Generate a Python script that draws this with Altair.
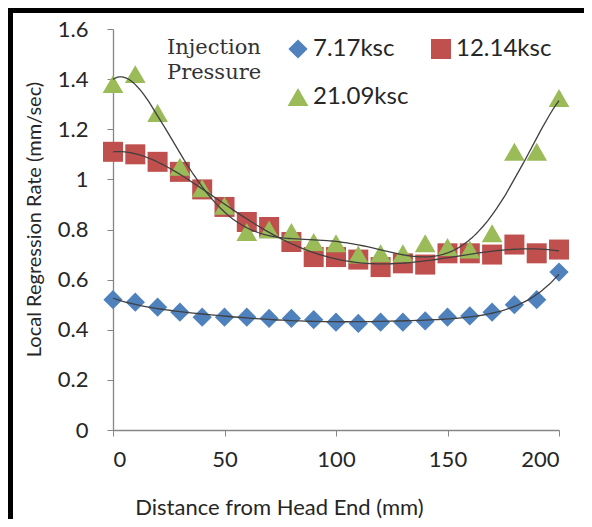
import altair as alt
import pandas as pd

# ---- data ----
distance = list(range(0, 201, 10))
rate_717 = [0.52, 0.51, 0.49, 0.47, 0.45, 0.45, 0.45, 0.445, 0.445, 0.44, 0.43,
            0.425, 0.43, 0.43, 0.435, 0.45, 0.455, 0.47, 0.50, 0.52, 0.63]
rate_1214 = [1.11, 1.10, 1.07, 1.03, 0.96, 0.89, 0.83, 0.81, 0.75, 0.69, 0.69,
             0.68, 0.65, 0.665, 0.66, 0.705, 0.705, 0.70, 0.74, 0.705, 0.72]
rate_2109 = [1.38, 1.42, 1.265, 1.05, 0.965, 0.895, 0.79, 0.80, 0.79, 0.75, 0.745,
             0.70, 0.705, 0.705, 0.745, 0.73, 0.72, 0.785, 1.11, 1.11, 1.325]

series_names = ["7.17ksc", "12.14ksc", "21.09ksc"]
series_colors = ["#4F81BD", "#C0504D", "#9BBB59"]
series_shapes = ["diamond", "square", "triangle-up"]
series_sizes = [370, 430, 400]
x_ticks = [0, 50, 100, 150, 200]
y_ticks = [0, 0.2, 0.4, 0.6, 0.8, 1.0, 1.2, 1.4, 1.6]

rows = []
for name, vals in zip(series_names, [rate_717, rate_1214, rate_2109]):
    for d, v in zip(distance, vals):
        rows.append({"distance": d, "rate": v, "series": name})
df = pd.DataFrame(rows)

W, H = 446, 401
LABEL_FONT = "Lato"

x_enc = alt.X(
    "distance:Q",
    scale=alt.Scale(domain=[0, 200], nice=False),
    axis=alt.Axis(
        values=x_ticks, title="Distance from Head End (mm)", grid=False,
        labelFontSize=22, labelPadding=13, labelFont=LABEL_FONT, labelColor="#262626",
        tickSize=6, tickColor="#868686", domainColor="#868686",
        titleFont=LABEL_FONT, titleFontSize=22, titleFontWeight="normal", titleColor="#262626",
        titleX=166, titleY=77, titleAlign="center", titleBaseline="middle",
    ),
)
y_enc = alt.Y(
    "rate:Q",
    scale=alt.Scale(domain=[0, 1.6], nice=False),
    axis=alt.Axis(
        values=y_ticks, format="~g", title="Local Regression Rate (mm/sec)", grid=False,
        labelFontSize=22, labelPadding=19, labelFont=LABEL_FONT, labelColor="#262626",
        tickSize=6, tickColor="#868686", domainColor="#868686",
        titleFont=LABEL_FONT, titleFontSize=20, titleFontWeight="normal", titleColor="#262626",
        titleX=-79, titleY=190, titleAngle=270, titleAlign="center", titleBaseline="middle",
    ),
)

points = alt.Chart(df).mark_point(filled=True, opacity=1).encode(
    x=x_enc,
    y=y_enc,
    color=alt.Color(
        "series:N",
        scale=alt.Scale(domain=series_names, range=series_colors),
        legend=alt.Legend(
            title=["Injection", "Pressure"], orient="none", legendX=54, legendY=8,
            direction="horizontal", columns=2, titleOrient="left",
            titleFont="DejaVu Serif", titleFontSize=21, titleFontWeight="normal",
            titleColor="#333333", titleLineHeight=25, titleAnchor="start",
            titleBaseline="top", titlePadding=24,
            labelFont=LABEL_FONT, labelFontSize=24, labelColor="#262626",
            labelOffset=3, symbolSize=280, symbolStrokeWidth=0,
            columnPadding=20, rowPadding=24, gridAlign="all", padding=0,
        ),
    ),
    shape=alt.Shape("series:N", scale=alt.Scale(domain=series_names, range=series_shapes)),
    size=alt.Size("series:N", scale=alt.Scale(domain=series_names, range=series_sizes), legend=None),
    order=alt.Order("series_order:Q"),
).transform_calculate(
    series_order="indexof(['7.17ksc','12.14ksc','21.09ksc'], datum.series)"
)

trend = alt.Chart(df).transform_regression(
    "distance", "rate", groupby=["series"], method="poly", order=6
).mark_line(color="#404040", strokeWidth=1.3).encode(
    x=alt.X("distance:Q"), y=alt.Y("rate:Q"), detail="series:N"
)

frame_src = pd.DataFrame({"k": [0]})
frame = alt.Chart(frame_src).mark_rect(
    filled=False, stroke="black", strokeWidth=5, fillOpacity=0
).encode(
    x=alt.value(-102.5), x2=alt.value(700), y=alt.value(-18.5), y2=alt.value(700)
)

chart = alt.layer(points, trend, frame).properties(
    width=W, height=H,
    autosize=alt.AutoSizeParams(type="none"),
    padding={"left": 105, "top": 21, "right": 25, "bottom": 89},
).configure_view(stroke=None).configure_axis(domainWidth=1.3)

chart.save("out.html", embed_options={"renderer": "svg", "actions": False})
